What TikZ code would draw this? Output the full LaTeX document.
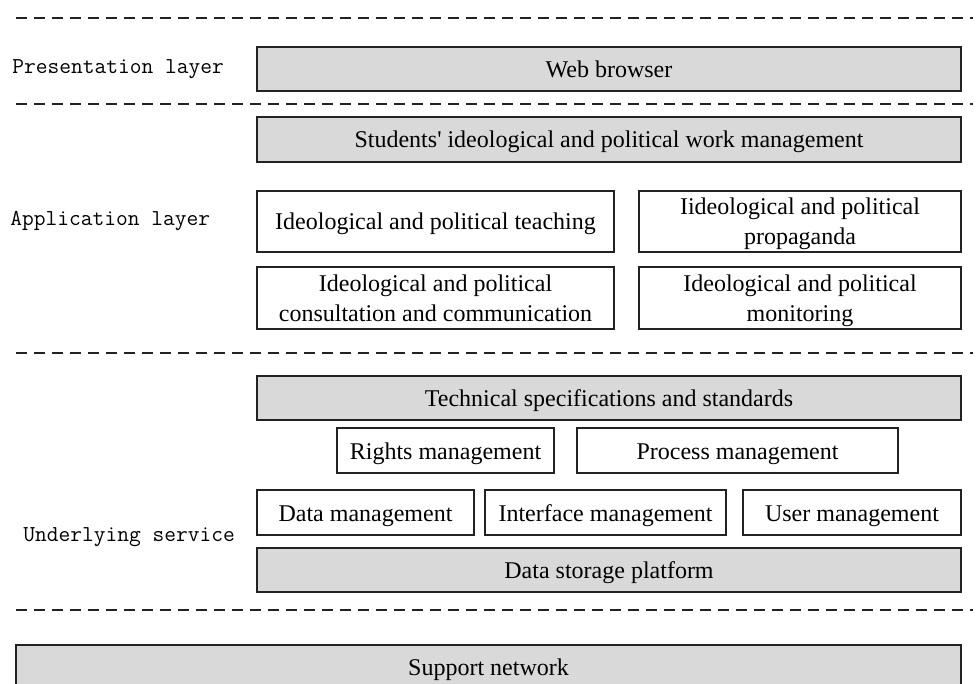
\documentclass[tikz,border=0pt]{standalone}
\usepackage{fontspec}
\setmainfont{Liberation Serif}
\newfontfamily\straightq{Liberation Serif}
\definecolor{boxgrey}{HTML}{D9D9D9}
\definecolor{linegrey}{HTML}{222222}
\tikzset{
  box/.style={draw=linegrey, line width=0.8pt, fill=white, inner sep=0pt, align=center,
    font=\fontsize{12}{15}\selectfont},
  onebox/.style={box, text height=9.75pt, text depth=1.25pt},
  twobox/.style={box, text height=24.75pt, text depth=1.25pt},
  gbox/.style={onebox, fill=boxgrey},
  layerlabel/.style={anchor=west, inner sep=0pt, text height=7pt, text depth=2pt,
    font=\ttfamily\fontsize{11.4}{13}\selectfont},
  sep/.style={draw=linegrey, line width=0.75pt, dash pattern=on 5.5pt off 3.5pt},
}
\begin{document}
\begin{tikzpicture}[x=0.5pt, y=-0.5pt]
\useasboundingbox (0,0) rectangle (979,684);
\clip (0,0) rectangle (979,684);
% separators
\draw[sep] (16,18) -- (973,18);
\draw[sep] (16,104) -- (973,104);
\draw[sep] (16,353) -- (973,353);
\draw[sep] (16,610) -- (973,610);
% layer labels
\node[layerlabel] (lpres) at (12,69) {Presentation layer};
\node[layerlabel] (lapp) at (10,221) {Application layer};
\node[layerlabel] (lund) at (23,536) {Underlying service};
% presentation
\node[gbox, minimum width=352pt, minimum height=22pt] (web) at (609,69) {Web browser};
% application
\node[gbox, minimum width=352pt, minimum height=22.5pt] (stud) at (609,139.5) {Students{\straightq'} ideological and political work management};
\node[onebox, minimum width=178.5pt, minimum height=30.5pt] (teach) at (435.5,221.5) {Ideological and political teaching};
\node[twobox, minimum width=161pt, minimum height=30.5pt] (prop) at (800,221.5) {Iideological and political\\propaganda};
\node[twobox, minimum width=178.5pt, minimum height=31pt] (cons) at (435.5,298) {Ideological and political\\consultation and communication};
\node[twobox, minimum width=161pt, minimum height=31pt] (mon) at (800,298) {Ideological and political\\monitoring};
% underlying service
\node[gbox, minimum width=352pt, minimum height=22pt] (tech) at (609,398) {Technical specifications and standards};
\node[onebox, minimum width=108.5pt, minimum height=22.5pt] (rights) at (445.5,450.5) {Rights management};
\node[onebox, minimum width=160.5pt, minimum height=22.5pt] (proc) at (737.5,450.5) {Process management};
\node[onebox, minimum width=108.5pt, minimum height=22.5pt] (datam) at (365.5,512.5) {Data management};
\node[onebox, minimum width=120.5pt, minimum height=22.5pt] (iface) at (605.5,512.5) {Interface management};
\node[onebox, minimum width=109pt, minimum height=22.5pt] (user) at (852,512.5) {User management};
\node[gbox, minimum width=352pt, minimum height=22pt] (store) at (609,570) {Data storage platform};
% support
\node[gbox, minimum width=472.5pt, minimum height=22pt] (supp) at (488.5,667) {Support network};
\end{tikzpicture}
\end{document}
